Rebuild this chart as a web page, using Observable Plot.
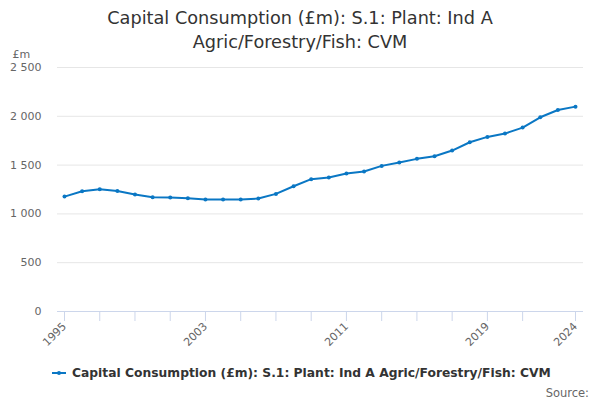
<!DOCTYPE html>
<html>
<head>
<meta charset="utf-8">
<script src="https://cdn.jsdelivr.net/npm/d3@7"></script>
<script src="https://cdn.jsdelivr.net/npm/@observablehq/plot@0.6"></script>
<style>
  body { margin: 0; background: #fff; font-family: "DejaVu Sans", sans-serif; }
  #wrap { position: relative; width: 600px; height: 400px; overflow: hidden; background: #fff; }
  #title { position: absolute; left: 0; top: 6px; width: 600px; text-align: center; font-size: 17.7px; line-height: 24px; color: #333; z-index: 2; }
  #chart { position: absolute; left: 0; top: 50px; z-index: 1; }
  #chart svg { background: transparent !important; }
  #legend { position: absolute; left: 52px; top: 366px; font-size: 12.3px; font-weight: bold; color: #333; display: flex; align-items: center; white-space: nowrap; }
  #legend .sym { position: relative; width: 14px; height: 2px; margin-right: 6px; }
  #legend .sym .dot { position: absolute; left: 5px; top: -1px; width: 4px; height: 4px; border-radius: 2px; }
  #source { position: absolute; right: 11px; top: 386px; font-size: 11.5px; color: #666; }
</style>
</head>
<body>
<div id="wrap">
  <div id="title">Capital Consumption (£m): S.1: Plant: Ind A<br>Agric/Forestry/Fish: CVM</div>
  <div id="chart"></div>
  <div id="legend"><span class="sym"><span class="dot"></span></span><span id="legendText"></span></div>
  <div id="source">Source:</div>
</div>
<script>
const seriesName = "Capital Consumption (£m): S.1: Plant: Ind A Agric/Forestry/Fish: CVM";
const years = [1995, 1996, 1997, 1998, 1999, 2000, 2001, 2002, 2003, 2004, 2005, 2006, 2007, 2008, 2009,
               2010, 2011, 2012, 2013, 2014, 2015, 2016, 2017, 2018, 2019, 2020, 2021, 2022, 2023, 2024];
const values = [1177, 1232, 1253, 1235, 1198, 1171, 1167, 1160, 1147, 1147, 1147, 1157, 1205, 1283, 1356,
                1373, 1414, 1434, 1492, 1526, 1564, 1591, 1649, 1734, 1789, 1823, 1884, 1990, 2065, 2099];
const xTicks = [1995, 1997, 1999, 2001, 2003, 2005, 2007, 2009, 2011, 2013, 2015, 2017, 2019, 2021, 2024];
const xLabels = [1995, 2003, 2011, 2019, 2024];
const yTicks = [0, 500, 1000, 1500, 2000, 2500];
const yUnit = "£m";
const lineColor = "#0a77c4";

const data = years.map((y, i) => ({year: y, value: values[i]}));
const fmtY = v => d3.format(",")(v).replace(/,/g, " ");

document.getElementById("legendText").textContent = seriesName;
document.querySelector("#legend .sym").style.background = lineColor;
document.querySelector("#legend .dot").style.background = lineColor;

const chart = Plot.plot({
  width: 600,
  height: 310,
  marginLeft: 57,
  marginRight: 17,
  marginTop: 17,
  marginBottom: 49,
  style: {fontFamily: "DejaVu Sans, sans-serif", fontSize: "11px", color: "#666", background: "transparent", overflow: "visible"},
  x: {domain: [1995, 2024], insetLeft: 7, insetRight: 8},
  y: {domain: [0, 2500]},
  marks: [
    Plot.gridY(yTicks, {stroke: "#e6e6e6", strokeOpacity: 1}),
    Plot.ruleY([0], {stroke: "#ccd6eb"}),
    Plot.axisY(yTicks, {tickSize: 0, tickPadding: 16, tickFormat: fmtY, label: null, fill: "#666"}),
    Plot.axisX(xTicks, {tickSize: 10, tickPadding: 3, stroke: "#ccd6eb", tickRotate: -45,
      tickFormat: d => xLabels.includes(d) ? String(d) : "", label: null, fill: "#666"}),
    Plot.text([yUnit], {frameAnchor: "top-left", dx: -45, dy: -17, fill: "#666", fontSize: 11}),
    Plot.lineY(data, {x: "year", y: "value", stroke: lineColor, strokeWidth: 2}),
    Plot.dot(data, {x: "year", y: "value", fill: lineColor, r: 2})
  ]
});
document.getElementById("chart").appendChild(chart);
</script>
</body>
</html>
